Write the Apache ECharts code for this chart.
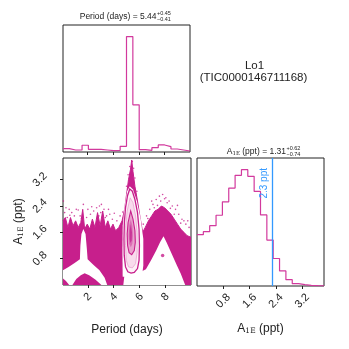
<!DOCTYPE html>
<html>
<head>
<meta charset="utf-8">
<script src="https://cdn.jsdelivr.net/npm/echarts@6/dist/echarts.min.js"></script>
<style>
  html, body { margin: 0; padding: 0; background: #fff; }
  #chart { width: 349px; height: 349px; }
</style>
</head>
<body>
<div id="chart"></div>
<script>
// histograms, 20 bins each
var periodRange = [0.07, 10];
var periodCounts = [33, 20, 20, 67, 27, 27, 20, 13, 17, 57, 1150, 470, 23, 17, 43, 70, 53, 30, 20, 10];
var ampRange = [0, 3.86];
var ampCounts = [153, 162, 180, 211, 251, 292, 330, 347, 327, 282, 212, 137, 82, 45, 19, 7, 4, 2, 1, 0.5];
var periodTicks = [2, 4, 6, 8];
var ampTicks = [0.8, 1.6, 2.4, 3.2];
var ampLimit = 2.3;

// 2d panel: [period, amplitude]
var denseTop = [[0.07,1.95],[0.25,2.05],[0.45,1.75],[0.65,2.05],[0.85,1.8],[1.05,1.95],[1.25,1.75],[1.45,1.9],[1.6,2.3],
  [1.75,1.7],[1.95,1.85],[2.15,1.7],[2.35,2.0],[2.55,1.75],[2.75,2.2],[2.95,1.8],[3.15,2.25],[3.35,1.75],[3.55,1.95],
  [3.75,1.7],[3.95,1.85],[4.15,1.65],[4.4,1.75],[4.65,1.95],[4.85,2.3],[5.0,2.75],[5.15,3.2],[5.3,3.5],[5.4,3.8],
  [5.5,3.45],[5.65,3.0],[5.85,2.55],[6.05,2.05],[6.25,1.6],[6.45,1.75],[6.7,1.95],[6.95,2.1],[7.2,2.25],[7.45,2.3],
  [7.7,2.4],[7.95,2.35],[8.2,2.25],[8.45,2.15],[8.7,2.0],[8.95,1.85],[9.2,1.7],[9.45,1.6],[9.7,1.5],[10,1.45]];
var sparsePts = [[0.1,2.55],[0.2,2.2],[0.4,2.05],[0.55,2.3],[0.75,2.2],[0.95,2.1],[1.25,2.28],[1.4,2.1],[1.65,2.45],
  [1.9,2.05],[2.2,2.15],[2.45,2.25],[2.68,2.35],[2.85,2.1],[3.05,2.45],[3.25,2.3],[3.45,2.1],[3.7,2.15],[3.9,2.0],
  [4.25,1.95],[4.5,2.1],[5.35,3.9],[5.45,3.75],[5.25,3.6],[5.55,3.55],[5.12,3.35],[5.65,3.25],[5.0,3.0],[5.8,2.85],
  [6.55,2.1],[6.8,2.3],[7.05,2.45],[7.3,2.6],[7.55,2.7],[7.8,2.75],[8.05,2.65],[8.3,2.55],[8.55,2.4],[8.8,2.3],
  [9.05,2.15],[9.3,2.0],[9.6,1.85],[9.85,1.75],[0.3,2.35],[1.1,2.3],[2.0,2.3],[2.9,2.4],[3.6,2.3],[7.15,2.35],
  [7.65,2.55],[8.15,2.5],[8.7,2.15],[9.45,1.95],[6.3,1.85],[0.6,2.12],[1.5,2.02],[2.3,2.38],[3.35,2.05],[4.05,2.18],
  [6.65,2.02],[6.95,2.55],[7.4,2.42],[7.95,2.62],[8.4,2.33],[8.95,2.42],[9.2,1.88],[9.75,1.95],[4.7,2.22],[3.0,2.2]];
var tentDot = [[7.8, 0.9]];
var holeLeft = [[0.07,0.45],[0.5,0.55],[1.0,0.68],[1.38,0.78],[1.42,1.2],[1.5,1.55],[1.65,1.7],[1.82,1.55],[1.92,1.1],
  [1.98,0.78],[2.4,0.62],[2.9,0.45],[3.3,0.22],[3.5,0],[3.05,0],[2.6,0.16],[2.1,0.3],[1.75,0.36],[1.45,0.3],
  [1.1,0.18],[0.8,0],[0.55,0],[0.3,0.12],[0.07,0.2]];
var holeTent = [[4.75,0],[4.85,0.35],[6.0,0.35],[6.2,0.42],[6.5,0.48],[6.9,0.75],[7.3,1.05],[7.6,1.3],[7.87,1.48],
  [8.1,1.3],[8.5,0.95],[8.9,0.6],[9.2,0.35],[9.45,0.1],[9.55,0]];
var ovalHalo = [[4.7,0.25],[4.68,1.0],[4.7,1.8],[4.85,2.4],[5.05,2.85],[5.25,3.0],[5.5,2.9],[5.8,2.55],[6.1,2.0],
  [6.3,1.4],[6.3,0.6],[6.2,0.25]];
var contourOuter = [[5.25,2.92],[5.45,2.85],[5.65,2.6],[5.85,2.2],[5.97,1.7],[6.0,1.2],[5.97,0.75],[5.85,0.5],[5.6,0.38],
  [5.35,0.36],[5.1,0.4],[4.92,0.55],[4.82,0.9],[4.8,1.4],[4.83,1.9],[4.92,2.35],[5.08,2.72]];
var contourMid = [[5.28,2.65],[5.5,2.5],[5.7,2.1],[5.82,1.6],[5.82,1.0],[5.7,0.65],[5.45,0.52],[5.15,0.55],[4.98,0.75],
  [4.92,1.2],[4.94,1.8],[5.05,2.25]];
var contourInner = [[5.32,2.25],[5.5,2.0],[5.65,1.65],[5.68,1.3],[5.6,1.05],[5.4,0.92],[5.2,0.98],[5.08,1.2],[5.05,1.55],[5.12,1.9]];
var contourCore = [[5.33,2.0],[5.45,1.8],[5.5,1.5],[5.45,1.25],[5.33,1.15],[5.2,1.25],[5.16,1.5],[5.2,1.8]];
var contourCenter = [[5.33,1.85],[5.42,1.6],[5.4,1.35],[5.3,1.28],[5.24,1.4],[5.24,1.65]];

var FONT = "'Liberation Sans', Arial, sans-serif";
var INK = '#222';
var MAG = '#c71f8c';
var HIST = '#d2399d';
var BLUE = '#3399ff';

function stepData(range, counts) {
  var w = (range[1] - range[0]) / counts.length;
  var d = counts.map(function (c, i) { return [range[0] + i * w, c]; });
  d.push([range[1], counts[counts.length - 1]]);
  return d;
}
function maxOf(a) { return Math.max.apply(null, a); }

var shapes = [
  { pts: holeLeft, fill: '#fff' },
  { pts: holeTent, fill: '#fff' },
  { pts: ovalHalo, fill: '#fff' },
  { pts: contourOuter, fill: '#fdf1f7', stroke: MAG, lw: 1.3 },
  { pts: contourMid, fill: '#f8dbec', stroke: '#eaa6d0', lw: 0.8 },
  { pts: contourInner, fill: '#e9a0cc', stroke: MAG, lw: 1.1 },
  { pts: contourCore, fill: '#da6db4' },
  { pts: contourCenter, fill: '#c93597' }
];

var gridBox = { show: true, borderColor: INK, borderWidth: 1, backgroundColor: 'transparent' };
function tickAxis(extra) {
  var ax = {
    type: 'value',
    axisLine: { show: false },
    splitLine: { show: false },
    axisTick: { show: true, length: 3, lineStyle: { color: INK } },
    axisLabel: { show: false }
  };
  for (var k in extra) ax[k] = extra[k];
  return ax;
}
var labelStyle = { rotate: 45, fontSize: 11, color: INK, fontFamily: FONT, align: 'center', verticalAlign: 'middle' };
function lbl(values, margin) {
  var o = { show: true, customValues: values, margin: margin };
  for (var k in labelStyle) o[k] = labelStyle[k];
  return o;
}
var nameStyle = {
  fontSize: 12, color: INK, fontFamily: FONT,
  rich: { s: { fontSize: 7.5, fontFamily: 'DejaVu Serif', verticalAlign: 'bottom', color: INK, lineHeight: 10 } }
};

var myChart = echarts.init(document.getElementById('chart'), null, { renderer: 'canvas' });
myChart.setOption({
  animation: false,
  textStyle: { fontFamily: FONT },
  grid: [
    Object.assign({ left: 63, top: 25, width: 127, height: 127 }, gridBox),
    Object.assign({ left: 63, top: 158, width: 128, height: 127 }, gridBox),
    Object.assign({ left: 197, top: 158, width: 127, height: 128 }, gridBox)
  ],
  xAxis: [
    tickAxis({ gridIndex: 0, min: periodRange[0], max: periodRange[1],
      axisTick: { show: true, length: 3, customValues: periodTicks, lineStyle: { color: INK } } }),
    tickAxis({ gridIndex: 1, min: periodRange[0], max: periodRange[1],
      axisTick: { show: true, length: 3, customValues: periodTicks, lineStyle: { color: INK } },
      axisLabel: lbl(periodTicks, 12),
      name: 'Period (days)', nameLocation: 'middle', nameGap: 39, nameTextStyle: nameStyle }),
    tickAxis({ gridIndex: 2, min: ampRange[0], max: ampRange[1],
      axisTick: { show: true, length: 3, customValues: ampTicks, lineStyle: { color: INK } },
      axisLabel: lbl(ampTicks, 15),
      name: 'A{s|1E} (ppt)', nameLocation: 'middle', nameGap: 37, nameTextStyle: nameStyle })
  ],
  yAxis: [
    { type: 'value', gridIndex: 0, min: 0, max: maxOf(periodCounts) * 1.1, show: false },
    tickAxis({ gridIndex: 1, min: ampRange[0], max: ampRange[1],
      axisTick: { show: true, length: 3, customValues: ampTicks, lineStyle: { color: INK } },
      axisLabel: lbl(ampTicks, 23),
      name: 'A{s|1E} (ppt)', nameLocation: 'middle', nameGap: 38, nameTextStyle: nameStyle }),
    { type: 'value', gridIndex: 2, min: 0, max: maxOf(ampCounts) * 1.1, show: false }
  ],
  graphic: [
    { type: 'text', x: 156.5, y: 17, style: { text: 'Period (days) = 5.44', font: '8.5px ' + FONT, fill: INK, align: 'right', verticalAlign: 'middle' } },
    { type: 'text', x: 157, y: 13.5, style: { text: '+0.45', font: '5.5px ' + FONT, fill: INK, align: 'left', verticalAlign: 'middle' } },
    { type: 'text', x: 157, y: 19.5, style: { text: '\u22120.41', font: '5.5px ' + FONT, fill: INK, align: 'left', verticalAlign: 'middle' } },
    { type: 'text', x: 286, y: 152, style: { text: 'A{s|1E} (ppt) = 1.31', font: '8.5px ' + FONT, fill: INK, align: 'right', verticalAlign: 'middle',
      rich: { s: { font: '5.5px DejaVu Serif', fill: INK, verticalAlign: 'bottom' } } } },
    { type: 'text', x: 286.5, y: 148.5, style: { text: '+0.62', font: '5.5px ' + FONT, fill: INK, align: 'left', verticalAlign: 'middle' } },
    { type: 'text', x: 286.5, y: 154.5, style: { text: '\u22120.74', font: '5.5px ' + FONT, fill: INK, align: 'left', verticalAlign: 'middle' } },
    { type: 'text', x: 254.5, y: 66, style: { text: 'Lo1', font: '11.5px ' + FONT, fill: INK, align: 'center', verticalAlign: 'middle' } },
    { type: 'text', x: 253.5, y: 78, style: { text: '(TIC0000146711168)', font: '11.5px ' + FONT, fill: INK, align: 'center', verticalAlign: 'middle' } }
  ],
  series: [
    {
      name: 'period hist', type: 'line', xAxisIndex: 0, yAxisIndex: 0, step: 'end', symbol: 'none',
      lineStyle: { color: HIST, width: 1.2 }, data: stepData(periodRange, periodCounts)
    },
    {
      name: 'dense', type: 'line', xAxisIndex: 1, yAxisIndex: 1, symbol: 'none', z: 2,
      lineStyle: { color: MAG, width: 1 }, areaStyle: { color: MAG, opacity: 1 }, data: denseTop
    },
    {
      name: 'contours', type: 'custom', xAxisIndex: 1, yAxisIndex: 1, silent: true, z: 5,
      data: shapes.map(function (s) { return s.pts[0]; }),
      renderItem: function (params, api) {
        var s = shapes[params.dataIndex];
        return {
          type: 'polygon',
          shape: { points: s.pts.map(function (p) { return api.coord(p); }) },
          style: { fill: s.fill, stroke: s.stroke || null, lineWidth: s.lw || 0 }
        };
      }
    },
    {
      name: 'sparse', type: 'scatter', xAxisIndex: 1, yAxisIndex: 1, symbolSize: 1.6, z: 6,
      itemStyle: { color: MAG, opacity: 0.8 }, data: sparsePts
    },
    {
      name: 'dot', type: 'scatter', xAxisIndex: 1, yAxisIndex: 1, symbolSize: 3.5, z: 6,
      itemStyle: { color: MAG }, data: tentDot
    },
    {
      name: 'amp hist', type: 'line', xAxisIndex: 2, yAxisIndex: 2, step: 'end', symbol: 'none',
      lineStyle: { color: HIST, width: 1.2 }, data: stepData(ampRange, ampCounts),
      markLine: {
        silent: true, symbol: ['none', 'none'],
        lineStyle: { color: BLUE, width: 1.3, type: 'solid' },
        label: { show: true, formatter: '2.3 ppt', position: 'insideEndTop', color: BLUE, fontSize: 10, fontFamily: FONT, distance: [10, 3] },
        data: [{ xAxis: ampLimit }]
      }
    }
  ]
});
</script>
</body>
</html>
